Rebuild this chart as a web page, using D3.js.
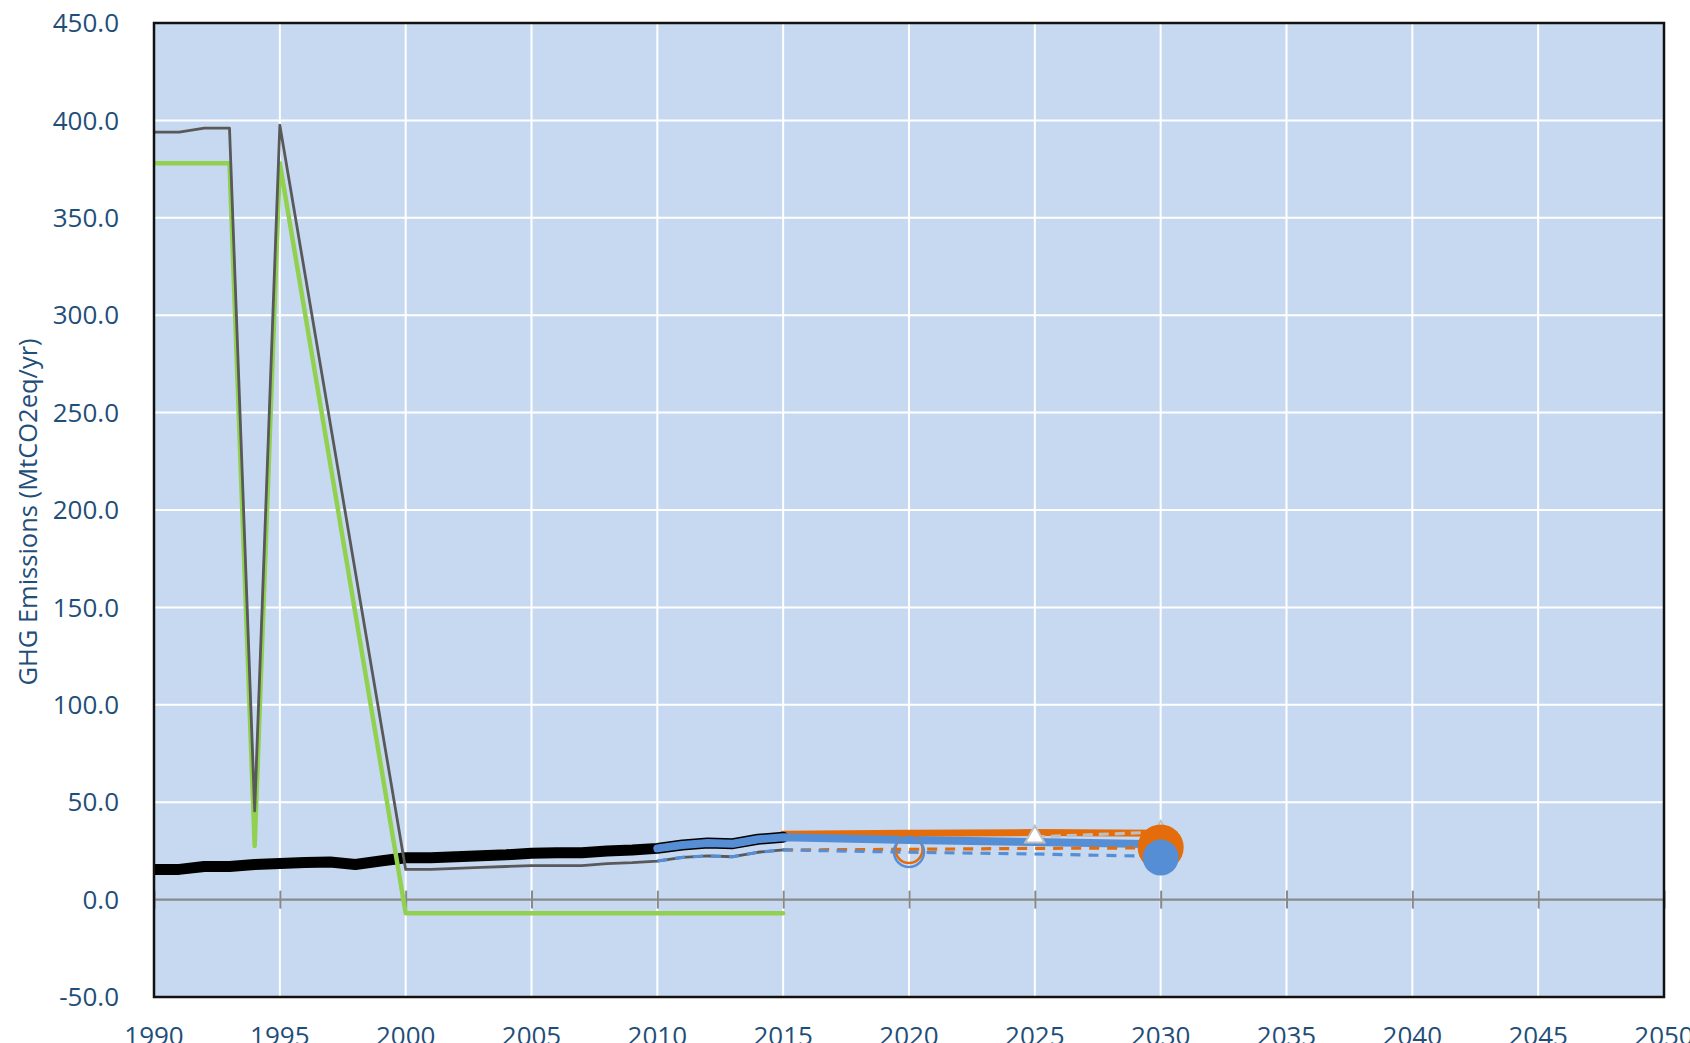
<!DOCTYPE html>
<html>
<head>
<meta charset="utf-8">
<script src="https://cdn.jsdelivr.net/npm/d3@7"></script>
<style>
  html, body { margin: 0; padding: 0; background: #fff; }
  svg { display: block; font-family: 'Open Sans', sans-serif; }
</style>
</head>
<body>
<div id="chart"></div>
<script>
// Historical inventory (thick black)
const histYears = [1990, 1991, 1992, 1993, 1994, 1995, 1996, 1997, 1998, 1999, 2000, 2001, 2002,
  2003, 2004, 2005, 2006, 2007, 2008, 2009, 2010, 2011, 2012, 2013, 2014, 2015]
const histValues = [15.5, 15.5, 17, 17, 18, 18.5, 19, 19.3, 18, 19.8, 21.5, 21.5, 22, 22.5, 23,
  23.8, 24, 24, 25, 25.5, 26.3, 28, 29, 28.7, 31, 32]

// Inventory incl. land use (thin dark grey)
const luYears = [1990, 1991, 1992, 1993, 1994, 1995, 2000, 2001, 2002, 2003, 2004, 2005, 2006,
  2007, 2008, 2009, 2010, 2011, 2012, 2013, 2014, 2015]
const luValues = [394, 394, 396, 396, 45.5, 397.5, 15.5, 15.5, 16, 16.5, 17, 17.4, 17.4, 17.4,
  18.5, 19, 19.8, 21.7, 22.4, 22, 24.3, 25.5]

// Land use sink (green)
const landYears = [1990, 1991, 1992, 1993, 1994, 1995, 2000, 2005, 2010, 2015]
const landValues = [378, 378, 378, 378, 27.5, 378, -7, -7, -7, -7]

// Projections, thick lines
const blueYears = [2010, 2011, 2012, 2013, 2014, 2015, 2020, 2025, 2030]
const blueValues = [26.3, 28, 29, 28.7, 31, 32, 30.6, 29.6, 28.4]
const orangeYears = [2015, 2020, 2025, 2030]
const orangeValues = [33.5, 34, 34.4, 34]

// Projections, dashed lines
const blueDashYears = [2010, 2011, 2012, 2013, 2014, 2015, 2020, 2025, 2029]
const blueDashValues = [19.8, 21.7, 22.4, 22, 24.3, 25.5, 24.3, 23.4, 22.4]
const orangeDashYears = [2015, 2020, 2025, 2029]
const orangeDashValues = [25.5, 25.8, 26.3, 26.5]
const greyDashYears = [2025, 2030]
const greyDashValues = [32.2, 34.7]

// Target markers
const ringPoints = [
  { year: 2020, value: 25.7, color: '#e46c0a', r: 13.5 },
  { year: 2020, value: 24.4, color: '#558ed5', r: 15 }
]
const dotPoints = [
  { year: 2030, value: 26.8, color: '#e46c0a', r: 23 },
  { year: 2030, value: 21.6, color: '#558ed5', r: 18 }
]
const trianglePoints = [
  { year: 2030, value: 34.7 },
  { year: 2025, value: 32.2 }
]

const yTicks = [-50, 0, 50, 100, 150, 200, 250, 300, 350, 400, 450]
const xTicks = [1990, 1995, 2000, 2005, 2010, 2015, 2020, 2025, 2030, 2035, 2040, 2045, 2050]

const width = 1690
const height = 1043
const plot = { left: 154, right: 1664, top: 23, bottom: 997 }
const textColor = '#1f4e79'

const svg = d3.select('#chart')
  .append('svg')
  .attr('width', width)
  .attr('height', height)

svg.append('clipPath')
  .attr('id', 'plot-clip')
  .append('rect')
  .attr('x', plot.left).attr('y', plot.top)
  .attr('width', plot.right - plot.left).attr('height', plot.bottom - plot.top)

const x = d3.scaleLinear().domain([1990, 2050]).range([plot.left, plot.right])
const y = d3.scaleLinear().domain([-50, 450]).range([plot.bottom, plot.top])

// background
svg.append('rect')
  .attr('x', plot.left).attr('y', plot.top)
  .attr('width', plot.right - plot.left).attr('height', plot.bottom - plot.top)
  .attr('fill', '#c6d9f0')

// grid
svg.append('g')
  .selectAll('line')
  .data(yTicks.slice(1, -1).filter(d => d !== 0))
  .join('line')
  .attr('x1', plot.left).attr('x2', plot.right)
  .attr('y1', d => y(d)).attr('y2', d => y(d))
  .attr('stroke', '#fff').attr('stroke-width', 2)

svg.append('g')
  .selectAll('line')
  .data(xTicks.slice(1, -1))
  .join('line')
  .attr('x1', d => x(d)).attr('x2', d => x(d))
  .attr('y1', plot.top).attr('y2', plot.bottom)
  .attr('stroke', '#fff').attr('stroke-width', 2)

// zero axis with tick marks
const xAxis = d3.axisBottom(x).tickValues(xTicks).tickSize(18).tickFormat('')
svg.append('g')
  .attr('transform', `translate(0,${y(0) - 9})`)
  .call(xAxis)
  .call(g => g.select('.domain').remove())
  .call(g => g.selectAll('.tick line').attr('stroke', '#898989').attr('stroke-width', 2))
svg.append('line')
  .attr('x1', plot.left).attr('x2', plot.right)
  .attr('y1', y(0)).attr('y2', y(0))
  .attr('stroke', '#898989').attr('stroke-width', 2.2)

// tick labels (the year row is cut by the bottom edge, as in the original)
svg.append('g')
  .selectAll('text')
  .data(yTicks)
  .join('text')
  .attr('x', 119)
  .attr('y', d => y(d))
  .attr('dy', '0.35em')
  .attr('text-anchor', 'end')
  .attr('fill', textColor)
  .style('font-size', '26px')
  .text(d => d.toFixed(1))

svg.append('g')
  .selectAll('text')
  .data(xTicks)
  .join('text')
  .attr('x', d => x(d))
  .attr('y', 1045)
  .attr('text-anchor', 'middle')
  .attr('fill', textColor)
  .style('font-size', '26px')
  .text(d => d)

svg.append('text')
  .attr('transform', `translate(37,${(plot.top + plot.bottom) / 2 + 2}) rotate(-90)`)
  .attr('text-anchor', 'middle')
  .attr('fill', textColor)
  .style('font-size', '25.5px')
  .text('GHG Emissions (MtCO2eq/yr)')

// series
const series = svg.append('g').attr('clip-path', 'url(#plot-clip)')
const line = d3.line().x(d => x(d[0])).y(d => y(d[1]))
const zip = (a, b) => a.map((v, i) => [v, b[i]])

function drawLine(years, values, color, w, dash) {
  series.append('path')
    .datum(zip(years, values))
    .attr('d', line)
    .attr('fill', 'none')
    .attr('stroke', color)
    .attr('stroke-width', w)
    .attr('stroke-linejoin', 'round')
    .attr('stroke-linecap', dash ? 'butt' : 'round')
    .attr('stroke-dasharray', dash || null)
}

drawLine(orangeYears, orangeValues, '#e46c0a', 7)
drawLine(histYears, histValues, '#000', 11)
drawLine(blueYears, blueValues, '#558ed5', 8)
drawLine(landYears, landValues, '#92d050', 4.5)
drawLine(luYears, luValues, '#595959', 2.8)
drawLine(orangeDashYears, orangeDashValues, '#e46c0a', 3.2, '10,8')
drawLine(blueDashYears, blueDashValues, '#558ed5', 3.2, '10,8')
drawLine(greyDashYears, greyDashValues, '#bfbfbf', 3.2, '10,6')

// markers
svg.append('g')
  .selectAll('path')
  .data(trianglePoints)
  .join('path')
  .attr('transform', d => `translate(${x(d.year)},${y(d.value)})`)
  .attr('d', d3.symbol(d3.symbolTriangle, 160))
  .attr('fill', '#fff')
  .attr('stroke', '#bfbfbf')
  .attr('stroke-width', 2)

svg.append('g')
  .selectAll('circle')
  .data(dotPoints)
  .join('circle')
  .attr('cx', d => x(d.year)).attr('cy', d => y(d.value))
  .attr('r', d => d.r)
  .attr('fill', d => d.color)

svg.append('g')
  .selectAll('circle')
  .data(ringPoints)
  .join('circle')
  .attr('cx', d => x(d.year)).attr('cy', d => y(d.value))
  .attr('r', d => d.r)
  .attr('fill', 'none')
  .attr('stroke', d => d.color)
  .attr('stroke-width', 2.5)

// plot border
svg.append('rect')
  .attr('x', plot.left).attr('y', plot.top)
  .attr('width', plot.right - plot.left).attr('height', plot.bottom - plot.top)
  .attr('fill', 'none')
  .attr('stroke', '#111')
  .attr('stroke-width', 2.5)
</script>
</body>
</html>
